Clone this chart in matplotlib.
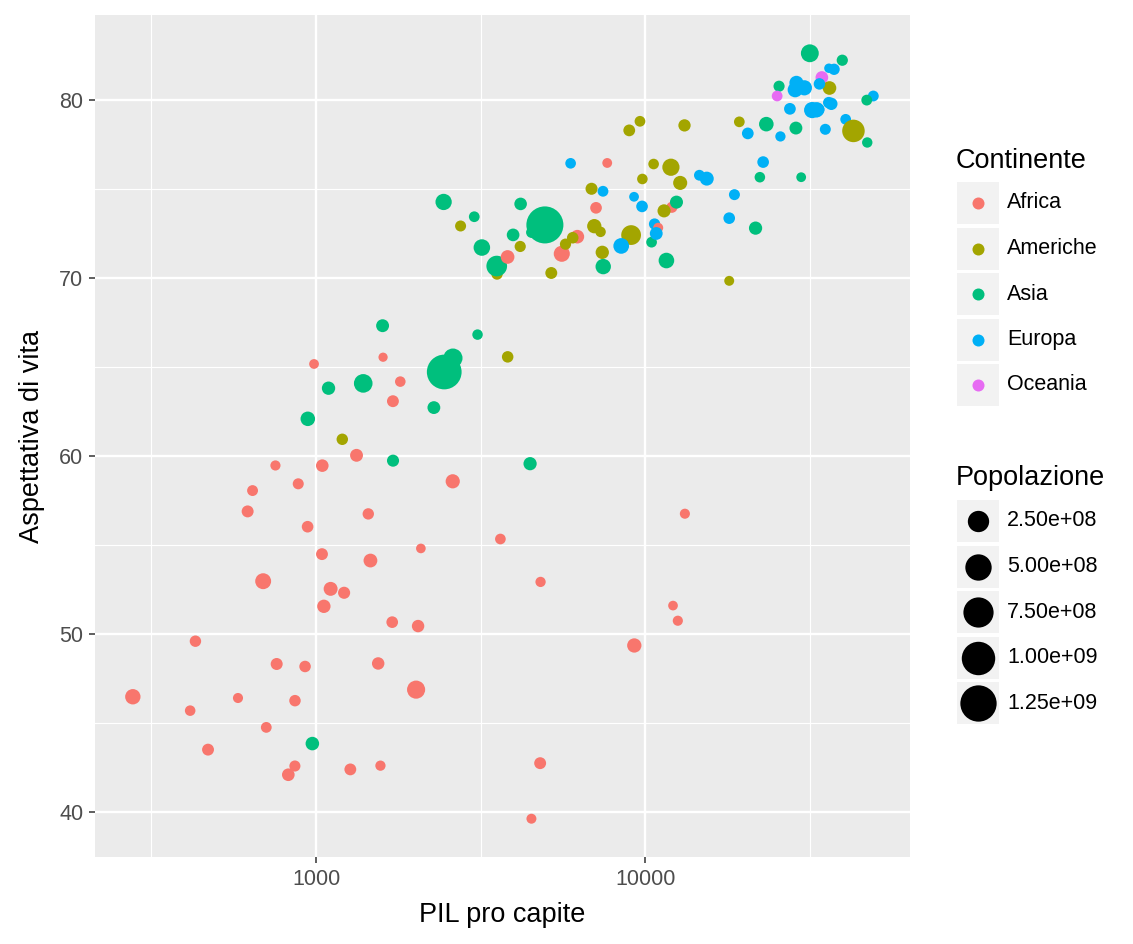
"""Gapminder 2007: PIL pro capite vs aspettativa di vita (stile ggplot)."""
import numpy as np
import matplotlib

matplotlib.use("Agg")
import matplotlib.pyplot as plt
from matplotlib.patches import Rectangle

plt.rcParams["font.family"] = ["Liberation Sans", "DejaVu Sans"]

# dati in ordine alfabetico per paese (ordine di disegno)
country = [
    "Afghanistan", "Albania", "Algeria", "Angola", "Argentina", "Australia", "Austria",
    "Bahrain", "Bangladesh", "Belgium", "Benin", "Bolivia", "Bosnia and Herzegovina",
    "Botswana", "Brazil", "Bulgaria", "Burkina Faso", "Burundi", "Cambodia", "Cameroon",
    "Canada", "Central African Republic", "Chad", "Chile", "China", "Colombia", "Comoros",
    "Congo, Dem. Rep.", "Congo, Rep.", "Costa Rica", "Cote d'Ivoire", "Croatia", "Cuba",
    "Czech Republic", "Denmark", "Djibouti", "Dominican Republic", "Ecuador", "Egypt",
    "El Salvador", "Equatorial Guinea", "Eritrea", "Ethiopia", "Finland", "France", "Gabon",
    "Gambia", "Germany", "Ghana", "Greece", "Guatemala", "Guinea", "Guinea-Bissau", "Haiti",
    "Honduras", "Hong Kong", "Hungary", "Iceland", "India", "Indonesia", "Iran", "Iraq",
    "Ireland", "Israel", "Italy", "Jamaica", "Japan", "Jordan", "Kenya", "Korea, Dem. Rep.",
    "Korea, Rep.", "Kuwait", "Lebanon", "Lesotho", "Liberia", "Libya", "Madagascar", "Malawi",
    "Malaysia", "Mali", "Mauritania", "Mauritius", "Mexico", "Mongolia", "Montenegro",
    "Morocco", "Mozambique", "Myanmar", "Namibia", "Nepal", "Netherlands", "New Zealand",
    "Nicaragua", "Niger", "Nigeria", "Norway", "Oman", "Pakistan", "Panama", "Paraguay",
    "Peru", "Philippines", "Poland", "Portugal", "Puerto Rico", "Reunion", "Romania",
    "Rwanda", "Sao Tome and Principe", "Saudi Arabia", "Senegal", "Serbia", "Sierra Leone",
    "Singapore", "Slovak Republic", "Slovenia", "Somalia", "South Africa", "Spain",
    "Sri Lanka", "Sudan", "Swaziland", "Sweden", "Switzerland", "Syria", "Taiwan", "Tanzania",
    "Thailand", "Togo", "Trinidad and Tobago", "Tunisia", "Turkey", "Uganda",
    "United Kingdom", "United States", "Uruguay", "Venezuela", "Vietnam",
    "West Bank and Gaza", "Yemen, Rep.", "Zambia", "Zimbabwe",
]
continent = [
    "Asia", "Europa", "Africa", "Africa", "Americhe", "Oceania", "Europa",
    "Asia", "Asia", "Europa", "Africa", "Americhe", "Europa",
    "Africa", "Americhe", "Europa", "Africa", "Africa", "Asia", "Africa",
    "Americhe", "Africa", "Africa", "Americhe", "Asia", "Americhe", "Africa",
    "Africa", "Africa", "Americhe", "Africa", "Europa", "Americhe",
    "Europa", "Europa", "Africa", "Americhe", "Americhe", "Africa",
    "Americhe", "Africa", "Africa", "Africa", "Europa", "Europa", "Africa",
    "Africa", "Europa", "Africa", "Europa", "Americhe", "Africa", "Africa", "Americhe",
    "Americhe", "Asia", "Europa", "Europa", "Asia", "Asia", "Asia", "Asia",
    "Europa", "Asia", "Europa", "Americhe", "Asia", "Asia", "Africa", "Asia",
    "Asia", "Asia", "Asia", "Africa", "Africa", "Africa", "Africa", "Africa",
    "Asia", "Africa", "Africa", "Africa", "Americhe", "Asia", "Europa",
    "Africa", "Africa", "Asia", "Africa", "Asia", "Europa", "Oceania",
    "Americhe", "Africa", "Africa", "Europa", "Asia", "Asia", "Americhe", "Americhe",
    "Americhe", "Asia", "Europa", "Europa", "Americhe", "Africa", "Europa",
    "Africa", "Africa", "Asia", "Africa", "Europa", "Africa",
    "Asia", "Europa", "Europa", "Africa", "Africa", "Europa",
    "Asia", "Africa", "Africa", "Europa", "Europa", "Asia", "Asia", "Africa",
    "Asia", "Africa", "Americhe", "Africa", "Europa", "Africa",
    "Europa", "Americhe", "Americhe", "Americhe", "Asia",
    "Asia", "Asia", "Africa", "Africa",
]
gdp_percap = [
    974.58, 5937.03, 6223.37, 4797.23, 12779.38, 34435.37, 36126.49,
    29796.05, 1391.25, 33692.61, 1441.29, 3822.14, 7446.30,
    12569.85, 9065.80, 10680.79, 1217.03, 430.07, 1713.78, 2042.10,
    36319.24, 706.02, 1704.06, 13171.64, 4959.12, 7006.58, 986.15,
    277.55, 3632.56, 9645.06, 1544.75, 14619.22, 8948.10,
    22833.31, 35278.42, 2082.48, 6025.38, 6873.26, 5581.18,
    5728.35, 12154.09, 641.37, 690.81, 33207.08, 30470.02, 13206.48,
    752.75, 32170.37, 1327.61, 27538.41, 5186.05, 942.65, 579.23, 1201.64,
    3548.33, 39724.98, 18008.94, 36180.79, 2452.21, 3540.65, 11605.71, 4471.06,
    40676.00, 25523.28, 28569.72, 7320.88, 31656.07, 4519.46, 1463.25, 1593.07,
    23348.14, 47306.99, 10461.06, 1569.33, 414.51, 12057.50, 1044.77, 759.35,
    12451.66, 1042.58, 1803.15, 10956.99, 11977.57, 3095.77, 9253.90,
    3820.18, 823.69, 944.00, 4811.06, 1091.36, 36797.93, 25185.01,
    2749.32, 619.68, 2013.98, 49357.19, 22316.19, 2605.95, 9809.19, 4172.84,
    7408.91, 3190.48, 15389.92, 20509.65, 19328.71, 7670.12, 10808.48,
    863.09, 1598.44, 21654.83, 1712.47, 9786.54, 862.54,
    47143.18, 18678.31, 25768.26, 926.14, 9269.66, 28821.06,
    3970.10, 2602.40, 4513.48, 33859.75, 37506.42, 4184.55, 28718.28, 1107.48,
    7458.40, 882.97, 18008.51, 7092.92, 8458.28, 1056.38,
    33203.26, 42951.65, 10611.46, 11415.81, 2441.58,
    3025.35, 2280.77, 1271.21, 469.71,
]
life_exp = [
    43.83, 76.42, 72.30, 42.73, 75.32, 81.24, 79.83,
    75.64, 64.06, 79.44, 56.73, 65.55, 74.85,
    50.73, 72.39, 73.01, 52.30, 49.58, 59.72, 50.43,
    80.65, 44.74, 50.65, 78.55, 72.96, 72.89, 65.15,
    46.46, 55.32, 78.78, 48.33, 75.75, 78.27,
    76.49, 78.33, 54.79, 72.24, 74.99, 71.34,
    71.88, 51.58, 58.04, 52.95, 79.31, 80.66, 56.74,
    59.45, 79.41, 60.02, 79.48, 70.26, 56.01, 46.39, 60.92,
    70.20, 82.21, 73.34, 81.76, 64.70, 70.65, 70.96, 59.55,
    78.89, 80.75, 80.55, 72.57, 82.60, 72.54, 54.11, 67.30,
    78.62, 77.59, 71.99, 42.59, 45.68, 73.95, 59.44, 48.30,
    74.24, 54.47, 64.16, 72.80, 76.20, 66.80, 74.54,
    71.16, 42.08, 62.07, 52.91, 63.79, 79.76, 80.20,
    72.90, 56.87, 46.86, 80.20, 75.64, 65.48, 75.54, 71.75,
    71.42, 71.69, 75.56, 78.10, 78.75, 76.44, 72.48,
    46.24, 65.53, 72.78, 63.06, 74.00, 42.57,
    79.97, 74.66, 77.93, 48.16, 49.34, 80.94,
    72.40, 58.56, 39.61, 80.88, 81.70, 74.14, 78.40, 52.52,
    70.62, 58.42, 69.82, 73.92, 71.78, 51.54,
    79.43, 78.24, 76.38, 73.75, 74.25,
    73.42, 62.70, 42.38, 43.49,
]
population = [
    31889923, 3600523, 33333216, 12420476, 40301927, 20434176, 8199783,
    708573, 150448339, 10392226, 8078314, 9119152, 4552198,
    1639131, 190010647, 7322858, 14326203, 8390505, 14131858, 17696293,
    33390141, 4369038, 10238807, 16284741, 1318683096, 44227550, 710960,
    64606759, 3800610, 4133884, 18013409, 4493312, 11416987,
    10228744, 5468120, 496374, 9319622, 13755680, 80264543,
    6939688, 551201, 4906585, 76511887, 5238460, 61083916, 1454867,
    1688359, 82400996, 22873338, 10706290, 12572928, 9947814, 1472041, 8502814,
    7483763, 6980412, 9956108, 301931, 1110396331, 223547000, 69453570, 27499638,
    4109086, 6426679, 58147733, 2780132, 127467972, 6053193, 35610177, 23301725,
    49044790, 2505559, 3921278, 2012649, 3193942, 6036914, 19167654, 13327079,
    24821286, 12031795, 3270065, 1250882, 108700891, 2874127, 684736,
    33757175, 19951656, 47761980, 2055080, 28901790, 16570613, 4115771,
    5675356, 12894865, 135031164, 4627926, 3204897, 169270617, 3242173, 6667147,
    28674757, 91077287, 38518241, 10642836, 3942491, 798094, 22276056,
    8860588, 199579, 27601038, 12267493, 10150265, 6144562,
    4553009, 5447502, 2009245, 9118773, 43997828, 40448191,
    20378239, 42292929, 1133066, 9031088, 7554661, 19314747, 23174294, 38139640,
    65068149, 5701579, 1056608, 10276158, 71158647, 29170398,
    60776238, 301139947, 3447496, 26084662, 85262356,
    4018332, 22211743, 11746035, 12311143,
]

continents = ["Africa", "Americhe", "Asia", "Europa", "Oceania"]
pal = ["#F8766D", "#A3A500", "#00BF7D", "#00B0F6", "#E76BF3"]
pop_breaks = [2.5e8, 5.0e8, 7.5e8, 1.0e9, 1.25e9]
pop_labels = ["2.50e+08", "5.00e+08", "7.50e+08", "1.00e+09", "1.25e+09"]

W, H = 1133, 944
PANEL_BG = "#EBEBEB"
KEY_BG = "#F2F2F2"
FS_TICK = 15.5
FS_TITLE = 19.5

pmin, pmax = min(population), max(population)


def size_to_s(size_mm):
    # diametro in px (stimato dal riferimento) -> area in pt^2
    d_px = 5.56 * np.asarray(size_mm) + 3.67
    return (d_px * 72 / 100) ** 2


def pop_to_s(p):
    p = np.asarray(p, dtype=float)
    size_mm = 1 + 5 * np.sqrt(np.clip((p - pmin) / (pmax - pmin), 0, 1))
    return size_to_s(size_mm)


fig = plt.figure(figsize=(W / 100, H / 100), dpi=100)
ax = fig.add_axes([95 / W, 1 - 857 / H, 815 / W, 842 / H])
ax.set_facecolor(PANEL_BG)

cmap = dict(zip(continents, pal))
colors = [cmap[c] for c in continent]
ax.scatter(gdp_percap, life_exp, s=pop_to_s(population), c=colors,
           linewidths=0, zorder=3)

ax.set_xscale("log")
ax.set_xlim(213, 63800)
ax.set_ylim(37.46, 84.75)
ax.set_xticks([1000, 10000])
ax.set_xticklabels(["1000", "10000"])
ax.set_xticks([10 ** 2.5, 10 ** 3.5, 10 ** 4.5], minor=True)
ax.set_yticks([40, 50, 60, 70, 80])
ax.set_yticks([45, 55, 65, 75], minor=True)

ax.grid(which="major", color="white", linewidth=1.7, zorder=0)
ax.grid(which="minor", color="white", linewidth=0.85, zorder=0)
ax.set_axisbelow(True)
for sp in ax.spines.values():
    sp.set_visible(False)
ax.tick_params(which="major", length=4.3, width=1.1, color="#333333",
               labelsize=FS_TICK, labelcolor="#4D4D4D", pad=4)
ax.tick_params(which="minor", length=0)

ax.set_xlabel("PIL pro capite", fontsize=FS_TITLE, color="black", labelpad=9)
ax.set_ylabel("Aspettativa di vita", fontsize=FS_TITLE, color="black", labelpad=10)

# legende disegnate in coordinate pixel
lax = fig.add_axes([0, 0, 1, 1], zorder=5)
lax.set_xlim(0, W)
lax.set_ylim(H, 0)
lax.axis("off")

key_x, key_w, key_h = 957, 42, 42
label_x = 1007

lax.text(956, 161, "Continente", fontsize=FS_TITLE, va="center", ha="left")
for i, (name, col) in enumerate(zip(continents, pal)):
    yc = 203 + i * 45.5
    lax.add_patch(Rectangle((key_x, yc - key_h / 2), key_w, key_h,
                            facecolor=KEY_BG, edgecolor="none"))
    lax.scatter([key_x + key_w / 2], [yc], s=size_to_s(1.5), c=col, linewidths=0)
    lax.text(label_x, yc, name, fontsize=FS_TICK, va="center", ha="left")

lax.text(956, 478, "Popolazione", fontsize=FS_TITLE, va="center", ha="left")
for i, (br, lab) in enumerate(zip(pop_breaks, pop_labels)):
    yc = 521 + i * 45.6
    lax.add_patch(Rectangle((key_x, yc - key_h / 2), key_w, key_h,
                            facecolor=KEY_BG, edgecolor="none"))
    lax.scatter([key_x + key_w / 2], [yc], s=pop_to_s(br), c="black", linewidths=0)
    lax.text(label_x, yc, lab, fontsize=FS_TICK, va="center", ha="left")

fig.savefig("out.png", dpi=100, facecolor="white")
